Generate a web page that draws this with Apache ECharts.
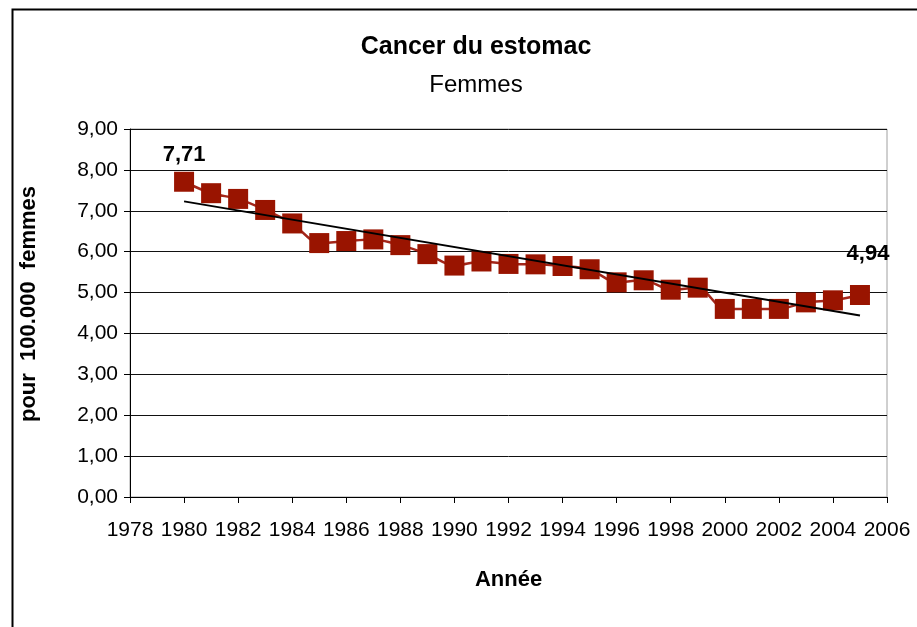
<!DOCTYPE html>
<html>
<head>
<meta charset="utf-8">
<script src="https://cdn.jsdelivr.net/npm/echarts@6/dist/echarts.min.js"></script>
<style>
  html, body { margin: 0; padding: 0; background: #fff; }
  #main { width: 917px; height: 627px; }
</style>
</head>
<body>
<div id="main"></div>
<script>
// données
var years = [1980, 1981, 1982, 1983, 1984, 1985, 1986, 1987, 1988, 1989, 1990, 1991, 1992,
  1993, 1994, 1995, 1996, 1997, 1998, 1999, 2000, 2001, 2002, 2003, 2004, 2005]
var rates = [7.71, 7.43, 7.29, 7.02, 6.69, 6.21, 6.26, 6.30, 6.16, 5.94, 5.66, 5.76, 5.70,
  5.69, 5.65, 5.57, 5.25, 5.30, 5.07, 5.12, 4.60, 4.60, 4.60, 4.76, 4.81, 4.94]
// tendance linéaire (extrémités)
var trendYears = [1980, 2005]
var trendValues = [7.23, 4.44]
var labelledYears = [1980, 2005]

var font = '"Liberation Sans", Arial, sans-serif'

function fmt (v) {
  return v.toFixed(2).replace('.', ',')
}

var chart = echarts.init(document.getElementById('main'))

var mainData = years.map(function (y, i) {
  var item = { value: [y, rates[i]] }
  if (labelledYears.indexOf(y) >= 0) {
    item.label = {
      show: true,
      position: 'top',
      distance: y === 2005 ? 20 : 6,
      offset: y === 2005 ? [8, 0] : [0, 0],
      formatter: function (p) { return fmt(p.value[1]) },
      fontFamily: font,
      fontWeight: 'bold',
      fontSize: 22,
      color: '#000'
    }
  }
  return item
})

chart.setOption({
  animation: false,
  backgroundColor: '#fff',
  title: [
    {
      text: 'Cancer du estomac',
      left: 471,
      top: 30,
      textAlign: 'center',
      textStyle: { fontFamily: font, fontWeight: 'bold', fontSize: 25, color: '#000' }
    },
    {
      text: 'Femmes',
      left: 471,
      top: 68,
      textAlign: 'center',
      textStyle: { fontFamily: font, fontWeight: 'normal', fontSize: 24, color: '#000' }
    }
  ],
  graphic: [
    {
      type: 'rect',
      left: 10,
      top: 7,
      shape: { width: 1000, height: 700 },
      style: { fill: 'none', stroke: '#000', lineWidth: 2 },
      z: 100
    },
    {
      type: 'text',
      x: 29,
      y: 304,
      rotation: Math.PI / 2,
      style: {
        text: 'pour  100.000  femmes',
        fontFamily: font,
        fontWeight: 'bold',
        fontSize: 22,
        fill: '#000',
        align: 'center',
        verticalAlign: 'middle'
      }
    }
  ],
  grid: {
    left: 130,
    right: 30,
    top: 129,
    bottom: 130,
    show: true,
    borderColor: '#a0a0a0',
    borderWidth: 1,
    backgroundColor: '#fff'
  },
  xAxis: {
    type: 'value',
    min: 1978,
    max: 2006,
    interval: 2,
    name: 'Année',
    nameLocation: 'middle',
    nameGap: 72,
    nameTextStyle: { fontFamily: font, fontWeight: 'bold', fontSize: 22, color: '#000' },
    axisLine: { show: true, lineStyle: { color: '#000', width: 1 } },
    axisTick: { show: true, inside: false, length: 6, lineStyle: { color: '#000' } },
    splitLine: { show: false },
    axisLabel: {
      fontFamily: font,
      fontSize: 21,
      color: '#000',
      margin: 23,
      formatter: function (v) { return String(v) }
    }
  },
  yAxis: {
    type: 'value',
    min: 0,
    max: 9,
    interval: 1,
    axisLine: { show: true, lineStyle: { color: '#000', width: 1 } },
    axisTick: { show: true, length: 6, lineStyle: { color: '#000' } },
    splitLine: { show: true, lineStyle: { color: '#111', width: 1 } },
    axisLabel: {
      fontFamily: font,
      fontSize: 21,
      color: '#000',
      margin: 12,
      formatter: function (v) { return fmt(v) }
    }
  },
  series: [
    {
      name: 'Femmes',
      type: 'line',
      smooth: 0.3,
      data: mainData,
      symbol: 'rect',
      symbolSize: 20,
      lineStyle: { color: '#a3261a', width: 2.5 },
      itemStyle: { color: '#991400' },
      z: 3
    },
    {
      name: 'Tendance',
      type: 'line',
      data: trendYears.map(function (y, i) { return [y, trendValues[i]] }),
      symbol: 'none',
      lineStyle: { color: '#000', width: 2 },
      z: 4
    }
  ]
})
</script>
</body>
</html>
